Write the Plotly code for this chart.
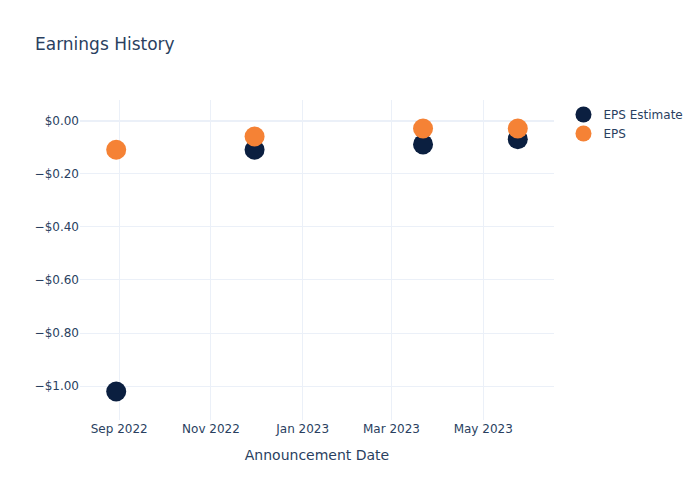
import plotly.graph_objects as go

dates = ["2022-08-30", "2022-11-30", "2023-03-22", "2023-05-24"]
eps_estimate = [-1.02, -0.11, -0.09, -0.07]
eps_actual = [-0.11, -0.06, -0.03, -0.03]

fig = go.Figure()
fig.add_trace(go.Scatter(x=dates, y=eps_estimate, mode="markers", name="EPS Estimate",
                         marker=dict(size=20, color="#0b1f40")))
fig.add_trace(go.Scatter(x=dates, y=eps_actual, mode="markers", name="EPS",
                         marker=dict(size=20, color="#f58235")))
fig.update_layout(
    template="plotly_white",
    font=dict(family="DejaVu Sans"),
    title="Earnings History",
    xaxis_title="Announcement Date",
    yaxis=dict(tickformat="$.2f"),
    width=700, height=500,
)
fig.write_html("out.html", config={"displayModeBar": False},
               post_script="document.body.style.margin='0';")
